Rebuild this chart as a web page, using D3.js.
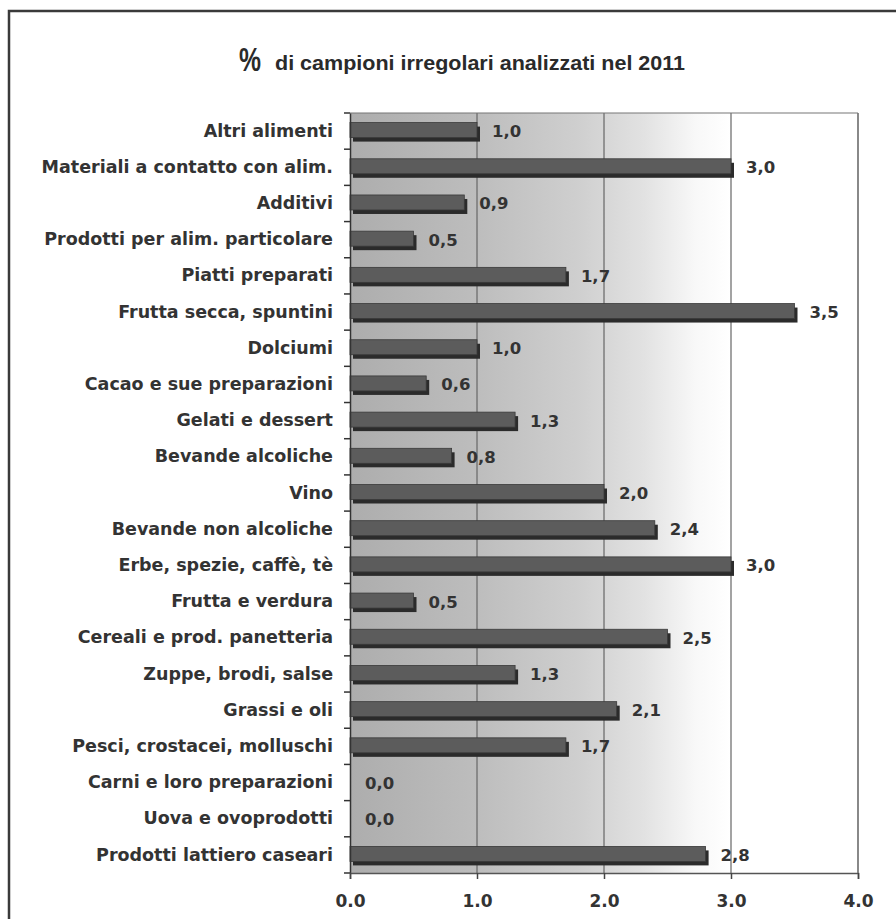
<!DOCTYPE html>
<html><head><meta charset="utf-8">
<script src="https://cdn.jsdelivr.net/npm/d3@7/dist/d3.min.js"></script>
<style>html,body{margin:0;padding:0;background:#fff;}</style>
</head><body><svg id="c" width="896" height="919"></svg>
<script>
const categories = ["Altri alimenti","Materiali a contatto con alim.","Additivi","Prodotti per alim. particolare","Piatti preparati","Frutta secca, spuntini","Dolciumi","Cacao e sue preparazioni","Gelati e dessert","Bevande alcoliche","Vino","Bevande non alcoliche","Erbe, spezie, caffè, tè","Frutta e verdura","Cereali e prod. panetteria","Zuppe, brodi, salse","Grassi e oli","Pesci, crostacei, molluschi","Carni e loro preparazioni","Uova e ovoprodotti","Prodotti lattiero caseari"];
const values = [1.0,3.0,0.9,0.5,1.7,3.5,1.0,0.6,1.3,0.8,2.0,2.4,3.0,0.5,2.5,1.3,2.1,1.7,0.0,0.0,2.8];
const xTicks = [0,1,2,3,4];
const titlePct = "%";
const titleRest = "di campioni irregolari analizzati nel 2011";

const svg = d3.select("#c");
const L = 350, R = 858, T = 113, B = 873;
const x = d3.scaleLinear().domain([0,4]).range([L,R]);
const y = d3.scaleBand().domain(categories).range([T,B]);
const font = "'DejaVu Sans', Verdana, sans-serif";
const tfont = "'Liberation Sans', Arial, sans-serif";

// outer frame
svg.append("rect").attr("x",9).attr("y",11).attr("width",900).attr("height",920)
  .attr("fill","none").attr("stroke","#3a3a3a").attr("stroke-width",2.5);

// title
svg.append("text").attr("x",239).attr("y",71).attr("font-family",tfont).attr("font-weight","bold")
  .attr("font-size",34).attr("fill","#2a2a2a").attr("textLength",22).attr("lengthAdjust","spacingAndGlyphs").text(titlePct);
svg.append("text").attr("x",275).attr("y",70).attr("font-family",tfont).attr("font-weight","bold")
  .attr("font-size",21).attr("fill","#2a2a2a").attr("textLength",410).attr("lengthAdjust","spacingAndGlyphs").text(titleRest);

// plot background gradient
const defs = svg.append("defs");
const g = defs.append("linearGradient").attr("id","bg").attr("x1","0").attr("x2","1").attr("y1","0").attr("y2","0");
[[0,"#adadad"],[0.25,"#bdbdbd"],[0.45,"#cfcfcf"],[0.58,"#e2e2e2"],[0.68,"#f8f8f8"],[0.75,"#ffffff"],[1,"#ffffff"]]
  .forEach(([o,c])=>g.append("stop").attr("offset",o).attr("stop-color",c));
svg.append("rect").attr("x",L).attr("y",T).attr("width",R-L).attr("height",B-T).attr("fill","url(#bg)");

// gridlines
svg.append("g").selectAll("line").data(xTicks.slice(1)).join("line")
  .attr("x1",d=>x(d)).attr("x2",d=>x(d)).attr("y1",T).attr("y2",B)
  .attr("stroke","#666").attr("stroke-width",1.2);
svg.append("line").attr("x1",L).attr("x2",R).attr("y1",T).attr("y2",T).attr("stroke","#777").attr("stroke-width",1.2);

// bars
const bh = 15;
const bars = svg.append("g");
categories.forEach((c,i)=>{
  const v = values[i];
  if (v <= 0) return;
  const cy = y(c) + y.bandwidth()/2;
  bars.append("rect").attr("x",x(0)+3).attr("y",cy-bh/2-1+4).attr("width",x(v)-x(0)).attr("height",bh)
    .attr("fill","#2b2b2b");
  bars.append("rect").attr("x",x(0)).attr("y",cy-bh/2-1).attr("width",x(v)-x(0)).attr("height",bh)
    .attr("fill","#5c5c5c").attr("stroke","#3a3a3a").attr("stroke-width",0.8);
});

// value labels
svg.append("g").selectAll("text").data(categories).join("text")
  .attr("x",(d,i)=>x(values[i])+15).attr("y",d=>y(d)+y.bandwidth()/2+6)
  .attr("font-family",font).attr("font-weight","bold").attr("font-size",16.5).attr("fill","#333")
  .text((d,i)=>values[i].toFixed(1).replace(".",","));

// y axis
const ya = svg.append("g").attr("transform",`translate(${L},0)`)
  .call(d3.axisLeft(y).tickSize(0).tickPadding(17));
ya.select(".domain").attr("stroke","#333").attr("stroke-width",1.5);
ya.selectAll("text").attr("font-family",font).attr("font-weight","bold").attr("font-size",17.5).attr("fill","#333");
// category separator ticks
svg.append("g").selectAll("line").data(d3.range(categories.length+1)).join("line")
  .attr("x1",L-6).attr("x2",L).attr("y1",i=>T+i*y.step()).attr("y2",i=>T+i*y.step())
  .attr("stroke","#333").attr("stroke-width",1.5);

// x axis
const xa = svg.append("g").attr("transform",`translate(0,${B})`)
  .call(d3.axisBottom(x).tickValues(xTicks).tickSize(6).tickPadding(16).tickFormat(d3.format(".1f")));
xa.select(".domain").attr("stroke","#555").attr("stroke-width",1.5);
xa.selectAll("line").attr("stroke","#444").attr("stroke-width",1.5);
xa.selectAll("text").attr("font-family",font).attr("font-weight","bold").attr("font-size",17).attr("fill","#333");

// right border
svg.append("line").attr("x1",R).attr("x2",R).attr("y1",T).attr("y2",B).attr("stroke","#777").attr("stroke-width",1.2);
</script></body></html>
